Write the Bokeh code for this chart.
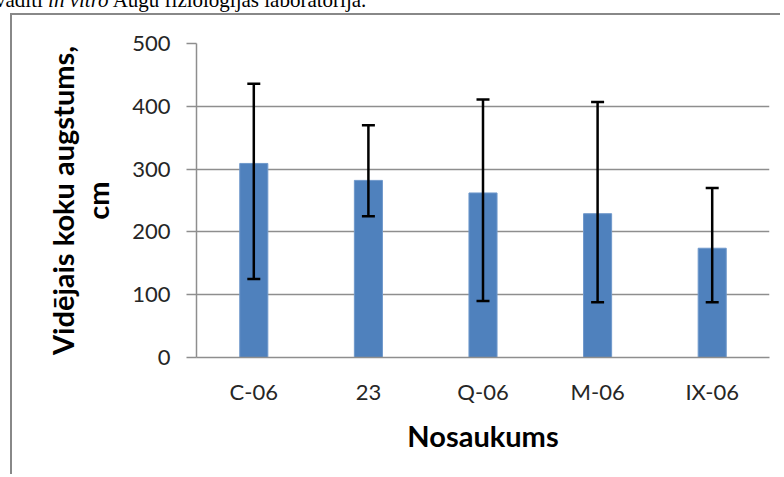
from bokeh.plotting import figure
from bokeh.models import (ColumnDataSource, FactorRange, Range1d, Whisker, TeeHead,
                          FixedTicker, Div)
from bokeh.layouts import column
from bokeh.embed import file_html
from bokeh.resources import INLINE

categories = ["C-06", "23", "Q-06", "M-06", "IX-06"]
mean_height = [309, 282, 262, 229, 174]
err_upper = [436, 370, 411, 407, 270]
err_lower = [125, 225, 90, 88, 88]
y_ticks = [0, 100, 200, 300, 400, 500]

caption_plain_1 = "vadīti "
caption_italic = "in vitro"
caption_plain_2 = " Augu fizioloģijas laboratorijā."

W, H = 770, 461
FL, FR, FT, FB = 184, 13, 28, 119  # frame borders inside the canvas

src = ColumnDataSource(dict(cat=categories, val=mean_height, up=err_upper, lo=err_lower))

p = figure(width=W, height=H,
           x_range=FactorRange(factors=categories, range_padding=0),
           y_range=Range1d(0, 500),
           output_backend="svg", toolbar_location=None,
           min_border_left=FL, min_border_right=FR, min_border_top=FT, min_border_bottom=FB,
           styles={"margin-left": "10px",
                   "border-left": "2px solid #888888",
                   "border-top": "2px solid #888888"})
p.outline_line_color = None
p.background_fill_color = "white"
p.border_fill_color = "white"

p.vbar(x="cat", top="val", width=0.245, source=src,
       fill_color="#4F81BD", line_color="#6F98CB", line_width=1)

w = Whisker(base="cat", upper="up", lower="lo", source=src, level="overlay",
            line_color="black", line_width=2.5,
            upper_head=TeeHead(size=13, line_color="black", line_width=2.5),
            lower_head=TeeHead(size=13, line_color="black", line_width=2.5))
p.add_layout(w)

grid = "#8E8E8E"
p.xgrid.grid_line_color = None
p.ygrid.grid_line_color = grid
p.ygrid.grid_line_width = 1.5

p.yaxis.ticker = FixedTicker(ticks=y_ticks)
p.yaxis.axis_line_color = grid
p.yaxis.axis_line_width = 1.5
p.yaxis.major_tick_line_color = grid
p.yaxis.major_tick_line_width = 1.5
p.yaxis.major_tick_out = 10
p.yaxis.major_tick_in = 0
p.yaxis.minor_tick_line_color = None
p.yaxis.major_label_text_font = "Lato"
p.yaxis.major_label_text_font_size = "22px"
p.yaxis.major_label_text_color = "#262626"
p.yaxis.major_label_standoff = 16
p.yaxis.axis_label = "Vidējais koku augstums,\ncm"
p.yaxis.axis_label_text_font = "Lato"
p.yaxis.axis_label_text_font_size = "29px"
p.yaxis.axis_label_text_font_style = "bold"
p.yaxis.axis_label_text_color = "black"
p.yaxis.axis_label_text_line_height = 1.0
p.yaxis.axis_label_standoff = 14

p.xaxis.axis_line_color = grid
p.xaxis.axis_line_width = 1.5
p.xaxis.major_tick_line_color = None
p.xaxis.minor_tick_line_color = None
p.xaxis.major_label_text_font = "Lato"
p.xaxis.major_label_text_font_size = "22px"
p.xaxis.major_label_text_color = "#262626"
p.xaxis.major_label_standoff = 14
p.xaxis.axis_label = "Nosaukums"
p.xaxis.axis_label_text_font = "Lato"
p.xaxis.axis_label_text_font_size = "29px"
p.xaxis.axis_label_text_font_style = "bold"
p.xaxis.axis_label_text_color = "black"
p.xaxis.axis_label_standoff = 10

caption_html = (
    '<div style="position:relative; top:-10px; left:-5px; white-space:nowrap; '
    "font-family:'Liberation Serif', 'Times New Roman', serif; font-size:21px; "
    'line-height:21px; color:black;">'
    f"{caption_plain_1}<i>{caption_italic}</i>{caption_plain_2}</div>"
)
caption = Div(text=caption_html, width=782, height=13, margin=0,
              styles={"overflow": "visible"})

layout = column(caption, p, spacing=0)

open("out.html", "w").write(file_html(layout, INLINE))
